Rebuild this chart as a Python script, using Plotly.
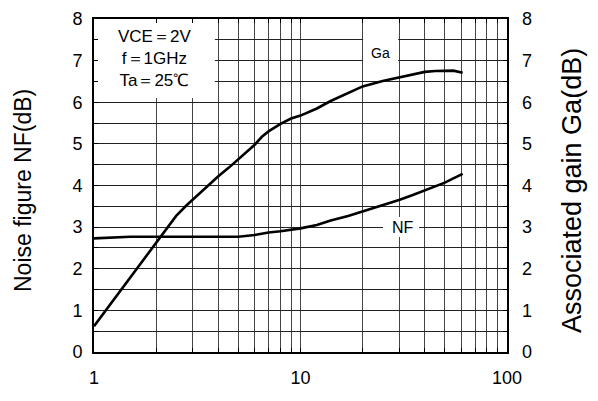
import math
import plotly.graph_objects as go

# ---- data ----
ga_x = [1.0, 1.2, 1.4, 1.6, 1.8, 2.0, 2.2, 2.5, 2.8, 3.0, 3.5, 4.0, 4.5, 5.0, 5.5, 6.0, 6.5, 7.0, 8.0, 9.0, 10, 11, 12, 14, 17, 20, 25, 30, 35, 40, 45, 50, 55, 61]
ga_y = [0.62, 1.15, 1.6, 1.99, 2.33, 2.64, 2.92, 3.27, 3.52, 3.66, 3.95, 4.22, 4.43, 4.63, 4.80, 4.98, 5.17, 5.30, 5.48, 5.61, 5.68, 5.76, 5.85, 6.03, 6.22, 6.38, 6.51, 6.59, 6.66, 6.73, 6.75, 6.76, 6.76, 6.71]

nf_x = [1.0, 1.5, 2.0, 3.0, 4.0, 5.0, 6.0, 7.0, 8.0, 9.0, 10, 12, 14, 17, 20, 25, 30, 35, 40, 45, 50, 55, 61]
nf_y = [2.73, 2.77, 2.77, 2.77, 2.77, 2.77, 2.81, 2.87, 2.90, 2.93, 2.97, 3.05, 3.16, 3.27, 3.38, 3.52, 3.65, 3.77, 3.88, 3.98, 4.07, 4.17, 4.28]

x_grid = [1, 2, 3, 4, 5, 6, 7, 8, 9, 10, 20, 30, 40, 50, 60, 70, 80, 90, 100]
x_labels = {1: "1", 10: "10", 100: "100"}
y_grid = [i * 0.5 for i in range(17)]
y_major = list(range(9))

cond_lines = ["VCE＝2V", "f＝1GHz", "Ta＝25℃"]

FONT = "Liberation Sans, Arial, sans-serif"
L = math.log10

fig = go.Figure()
fig.add_trace(go.Scatter(x=nf_x, y=nf_y, mode="lines", yaxis="y",
                         line=dict(color="black", width=2.6), showlegend=False))
fig.add_trace(go.Scatter(x=ga_x, y=ga_y, mode="lines", yaxis="y2",
                         line=dict(color="black", width=2.6), showlegend=False))

fig.update_layout(
    width=590, height=393,
    margin=dict(l=86, r=91, t=11, b=49),
    paper_bgcolor="white", plot_bgcolor="white",
    font=dict(family=FONT, color="black", size=18),
    xaxis=dict(
        type="log", range=[0, 2],
        tickvals=x_grid,
        ticktext=[x_labels.get(v, "") for v in x_grid],
        showgrid=True, gridcolor="#444", gridwidth=1,
        ticks="inside", ticklen=4, tickcolor="black",
        showline=True, linecolor="black", linewidth=2, mirror="ticks",
        ticklabelstandoff=8,
        tickfont=dict(size=18),
        zeroline=False, automargin=False,
    ),
    yaxis=dict(
        range=[0, 8],
        tickvals=y_grid,
        ticktext=[str(int(v)) if v == int(v) else "" for v in y_grid],
        showgrid=True, gridcolor="#222", gridwidth=1,
        ticks="inside", ticklen=4, tickcolor="black",
        showline=True, linecolor="black", linewidth=2, mirror="ticks",
        ticklabelstandoff=6,
        tickfont=dict(size=18),
        zeroline=False, automargin=False,
    ),
    yaxis2=dict(
        range=[0, 8], overlaying="y", side="right",
        tickvals=y_major, ticktext=[str(v) for v in y_major],
        showgrid=False, ticks="", showline=False, zeroline=False,
        ticklabelstandoff=14,
        tickfont=dict(size=18), automargin=False,
    ),
)

# white masks over the grid for the text areas (data units)
masks = [
    (1.0, 3.85, 6.1, 8.0),
    (20.1, 29.7, 6.92, 7.57),
    (25.1, 37.5, 2.76, 3.245),
]
for x0, x1, y0, y1 in masks:
    fig.add_shape(type="rect", xref="x", yref="y", x0=x0, x1=x1, y0=y0, y1=y1,
                  fillcolor="white", line=dict(width=0), layer="between")

fig.add_annotation(xref="x", yref="y", x=L(1.97), y=7.05,
                   text="<br>".join(cond_lines), showarrow=False,
                   xanchor="center", yanchor="middle",
                   font=dict(size=17, family=FONT), align="center")
fig.add_annotation(xref="x", yref="y", x=L(24.3), y=7.18,
                   text="Ga", showarrow=False, xanchor="center", yanchor="middle",
                   font=dict(size=14, family=FONT))
fig.add_annotation(xref="x", yref="y", x=L(31.2), y=3.0,
                   text="NF", showarrow=False, xanchor="center", yanchor="middle",
                   font=dict(size=16, family=FONT))

# axis titles
fig.add_annotation(xref="paper", yref="paper", x=0, y=(352 - 191) / 333.0, xshift=-71,
                   text="Noise figure NF(dB)", textangle=-90, showarrow=False,
                   xanchor="center", yanchor="middle",
                   font=dict(size=23, family=FONT))
fig.add_annotation(xref="paper", yref="paper", x=1, y=(352 - 191) / 333.0, xshift=65,
                   text="Associated gain Ga(dB)", textangle=-90, showarrow=False,
                   xanchor="center", yanchor="middle",
                   font=dict(size=27, family=FONT))

fig.write_html("out.html")
